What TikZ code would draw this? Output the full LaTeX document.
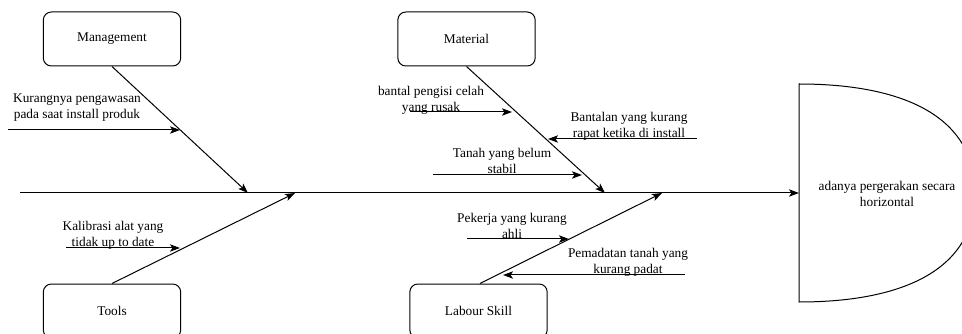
\documentclass[tikz,border=0pt]{standalone}
\usepackage{fontspec}
\setmainfont{Liberation Serif}
\usetikzlibrary{arrows.meta}
\begin{document}
\begin{tikzpicture}[x=0.75pt,y=-0.75pt,
  font=\fontsize{10pt}{12pt}\selectfont,
  line width=0.75pt,
  arr/.style={-{Stealth[length=7.5pt,width=5.5pt,inset=1.8pt]}},
  catbox/.style={draw,rounded corners=6pt,minimum width=103pt,minimum height=40.5pt,inner sep=0pt},
  cause/.style={align=center,inner sep=0pt}]
\useasboundingbox (0,0) rectangle (962,334);

% category boxes
\node[catbox] (mgmt) at (112,39) {Management};
\node[catbox] (mat) at (466.5,39) {Material};
\node[catbox] (tools) at (112,311) {Tools};
\node[catbox] (labour) at (478.5,311) {Labour Skill};

% effect head (flat left side, curved right side)
\draw (799,84) coordinate (hTop)
  .. controls (899,84) and (975,114) .. (975,193)
  .. controls (975,272) and (899,302) .. (799,302) coordinate (hBot)
  -- cycle;
\coordinate (head) at (799,193);
\node[align=center,inner sep=0pt] (effect) at (887,193.5) {adanya pergerakan secara\\horizontal};

% spine
\coordinate (spineStart) at (20,193);
\draw[arr] (spineStart) -- (head);

% branch end points on the spine
\coordinate (mgmtEnd) at (248,193);
\coordinate (toolsEnd) at (295,193);
\coordinate (matEnd) at (605,193);
\coordinate (labourEnd) at (662,193);

\draw[arr] (mgmt.south) -- (mgmtEnd);
\draw[arr] (mat.south) -- (matEnd);
\draw[arr] (tools.north) -- (toolsEnd);
\draw[arr] ([xshift=1.1pt]labour.north) -- (labourEnd);

% Management causes
\node[cause] (t1) at (77,108) {Kurangnya pengawasan\\pada saat install produk};
\coordinate (c1s) at (8,130);
\coordinate (c1e) at (180,130);
\draw[arr] (c1s) -- (c1e);

% Material causes
\node[cause] (t2) at (431,100) {bantal pengisi celah\\yang rusak};
\coordinate (c2s) at (410,112);
\coordinate (c2e) at (512,112);
\draw[arr] (c2s) -- (c2e);

\node[cause] (t3) at (629,126) {Bantalan yang kurang\\rapat ketika di install};
\coordinate (c3s) at (697,139);
\coordinate (c3e) at (548,139);
\draw[arr] (c3s) -- (c3e);

\node[cause] (t4) at (502,161) {Tanah yang belum\\stabil};
\coordinate (c4s) at (433,175);
\coordinate (c4e) at (582,175);
\draw[arr] (c4s) -- (c4e);

% Tools cause
\node[cause] (t5) at (113,235) {Kalibrasi alat yang\\tidak up to date};
\coordinate (c5s) at (66,248);
\coordinate (c5e) at (180,248);
\draw[arr] (c5s) -- (c5e);

% Labour Skill causes
\node[cause] (t6) at (512,226) {Pekerja yang kurang\\ahli};
\coordinate (c6s) at (467,239);
\coordinate (c6e) at (569,239);
\draw[arr] (c6s) -- (c6e);

\node[cause] (t7) at (628,262) {Pemadatan tanah yang\\kurang padat};
\coordinate (c7s) at (685,275);
\coordinate (c7e) at (503,275);
\draw[arr] (c7s) -- (c7e);
\end{tikzpicture}
\end{document}
